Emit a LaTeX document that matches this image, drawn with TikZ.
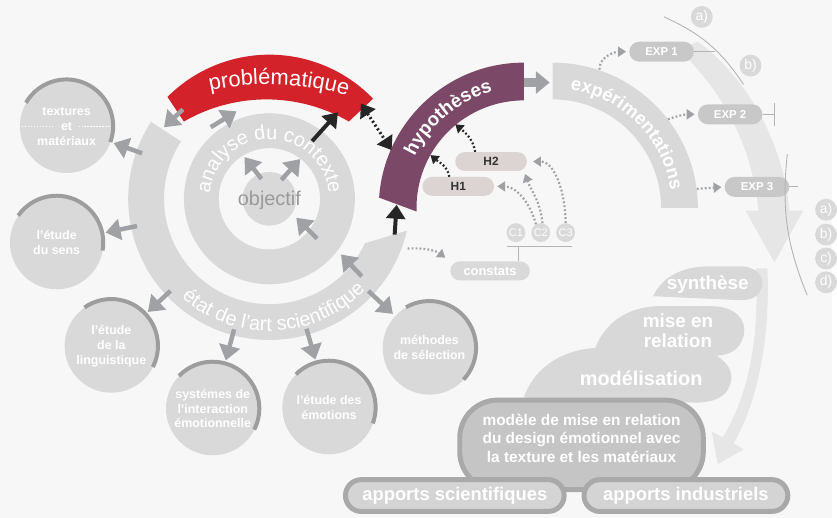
\documentclass[tikz,border=0pt]{standalone}
\usepackage{fontspec}
\setmainfont{Liberation Sans}
\usepackage{tikz}
\usetikzlibrary{positioning, arrows.meta, calc, decorations.text}
\definecolor{pagebg}{HTML}{F7F7F7}
\definecolor{ringgray}{HTML}{D9D9DA}
\definecolor{arrowgray}{HTML}{A0A1A4}
\definecolor{rimgray}{HTML}{9D9D9E}
\definecolor{probred}{HTML}{D3222A}
\definecolor{hyppurple}{HTML}{7B4967}
\definecolor{hypfill}{HTML}{DCD3D3}
\definecolor{expfill}{HTML}{C8C8C8}
\definecolor{sweepgray}{HTML}{E6E6E6}
\definecolor{blobgray}{HTML}{D8D8D8}
\definecolor{modelfill}{HTML}{C5C5C5}
\definecolor{boxrim}{HTML}{A9A9A9}
\definecolor{applfill}{HTML}{D4D4D4}
\definecolor{objgray}{HTML}{9A9A9A}
\tikzset{
  sat/.style={circle, fill=ringgray, minimum size=94pt, inner sep=0pt, align=center,
    text=white, font=\bfseries\fontsize{12.5}{15}\selectfont},
  rim/.style={draw=rimgray, line width=4pt},
  grayarr/.style={draw=arrowgray, line width=4.5pt, shorten >=3pt, -{Triangle[length=15pt, width=21pt]}},
  blackarr/.style={draw=black!85, line width=4pt, -{Triangle[length=14pt, width=19pt]}},
  blackdd/.style={draw=black!85, line width=3pt, dash pattern=on 2pt off 2.5pt,
    {Triangle[length=13pt, width=18pt]}-{Triangle[length=13pt, width=18pt]}},
  bdots/.style={draw=black!85, line width=2.2pt, dash pattern=on 1.8pt off 2.2pt, -{Triangle[length=8pt, width=10pt]}},
  gdots/.style={draw=arrowgray, line width=2.2pt, dash pattern=on 1.8pt off 2.2pt, shorten >=3pt, -{Triangle[length=8pt, width=10pt]}},
  hbox/.style={fill=hypfill, rounded corners=9.5pt, minimum width=72pt, minimum height=19pt, inner sep=0pt,
    text=black!80, font=\bfseries\fontsize{12}{12}\selectfont},
  expbox/.style={fill=expfill, rounded corners=10pt, minimum width=65pt, minimum height=20pt, inner sep=0pt,
    text=white, font=\bfseries\fontsize{11.5}{11.5}\selectfont},
  smallc/.style={circle, fill=ringgray, minimum size=19pt, inner sep=0pt, text=white, font=\fontsize{11}{11}\selectfont},
  labc/.style={circle, fill=ringgray, minimum size=22pt, inner sep=0pt, text=white, font=\fontsize{14}{14}\selectfont},
  guide/.style={draw=arrowgray!80, line width=0.9pt},
  blobtext/.style={text=white, align=center, font=\bfseries\fontsize{19}{20}\selectfont},
  apport/.style={draw=boxrim, line width=5pt, fill=applfill, rounded corners=16pt, minimum height=32pt,
    text=white, font=\bfseries\fontsize{18.5}{18.5}\selectfont},
}

\begin{document}
\begin{tikzpicture}[x=1pt, y=1pt]
  \fill[pagebg] (0,0) rectangle (837,-521);
  \coordinate (ctx) at (271,-200);
  \coordinate (hyp) at (527,-209);
  \coordinate (exc) at (556,-209);
  \coordinate (rin) at (268,-266);
  \coordinate (pbl) at (271,-361);

  % light sweeping arrows on the right
  \fill[sweepgray] (683,-50) .. controls (730,-95) and (757,-150) .. (763,-212) -- (750,-212) -- (779,-264)
    -- (808,-212) -- (794,-212) .. controls (788,-140) and (748,-75) .. (702,-42) -- cycle;
  \fill[sweepgray] (760,-270) .. controls (765,-340) and (752,-400) .. (727,-440) -- (716,-434) -- (722,-467)
    -- (748,-452) -- (738,-446) .. controls (762,-405) and (775,-340) .. (772,-270) -- cycle;

  % rings and bands
  \fill[ringgray] ($(ctx)+(147:142)$) arc[start angle=147, end angle=347, radius=142]
    -- ($(ctx)+(335:106)$) arc[start angle=335, end angle=147, radius=106] -- cycle;
  \fill[ringgray, even odd rule] (ctx) circle[radius=86] (ctx) circle[radius=51];
  \fill[ringgray] (ctx) circle[radius=27];
  \fill[probred] ($(ctx)+(135:145)$) arc[start angle=135, end angle=44, radius=145]
    -- ($(rin)+(60:166)$) arc[start angle=60, end angle=120, radius=166] -- cycle;
  \fill[hyppurple] ($(hyp)+(90:146)$) arc[start angle=90, end angle=176, radius=146]
    -- ($(hyp)+(182:108)$) arc[start angle=182, end angle=90, radius=108] -- cycle;
  \fill[ringgray] ($(exc)+(90:146)$) arc[start angle=90, end angle=0, radius=146]
    -- ($(exc)+(0:109)$) arc[start angle=0, end angle=90, radius=109] -- cycle;

  % texts along the bands
  \path[decorate, decoration={text along path, text align=center, text color=white,
    text={|\fontsize{22}{22}\selectfont|problématique}}]
    ($(pbl)+(104:276)$) arc[start angle=104, end angle=72, radius=276];
  \path[decorate, decoration={text along path, text align=center, text color=white,
    text={|\fontsize{20}{20}\selectfont|analyse du contexte}}]
    ($(ctx)+(178:60)$) arc[start angle=178, end angle=2, radius=60];
  \path[decorate, decoration={text along path, text align=center, text color=white,
    text={|\fontsize{20}{20}\selectfont|état de l'art scientifique}}]
    ($(ctx)+(205:133)$) arc[start angle=205, end angle=340, radius=133];
  \path[decorate, decoration={text along path, text align=center, text color=white,
    text={|\bfseries\fontsize{19}{19}\selectfont|hypothèses}}]
    ($(hyp)+(172:121)$) arc[start angle=172, end angle=88, radius=121];
  \path[decorate, decoration={text along path, text align=center, text color=white,
    text={|\bfseries\fontsize{18.5}{18.5}\selectfont|expérimentations}}]
    ($(exc)+(88:120)$) arc[start angle=88, end angle=2, radius=120];
  \node[text=objgray, font=\fontsize{20}{20}\selectfont] (obj) at (271,-202) {objectif};

  % satellite circles
  \node[sat] (tex) at (67,-127) {textures\\et\\matériaux};
  \node[sat] (sens) at (57,-244) {l'étude\\du sens};
  \node[sat] (ling) at (112,-348) {l'étude\\de la\\linguistique};
  \node[sat] (inter) at (214,-411) {systémes de\\l'interaction\\émotionnelle};
  \node[sat] (emo) at (331,-410) {l'étude des\\émotions};
  \node[sat] (meth) at (432,-350) {méthodes\\de sélection};
  \draw[white, line width=1.3pt, dash pattern=on 1.3pt off 1.7pt]
    ([xshift=-48pt, yshift=-0.5pt]tex.center) -- ([xshift=-12pt, yshift=-0.5pt]tex.center)
    ([xshift=12pt, yshift=-0.5pt]tex.center) -- ([xshift=46pt, yshift=-0.5pt]tex.center);
  \draw[rim] (tex.150) arc[start angle=150, end angle=-20, radius=47];
  \draw[rim] (sens.145) arc[start angle=145, end angle=-10, radius=47];
  \draw[rim] (ling.125) arc[start angle=125, end angle=-27, radius=47];
  \draw[rim] (inter.136) arc[start angle=136, end angle=-27, radius=47];
  \draw[rim] (emo.135) arc[start angle=135, end angle=-20, radius=47];
  \draw[rim] (meth.120) arc[start angle=120, end angle=-43, radius=47];
  \foreach \s in {tex, sens, ling, inter, emo, meth}
    \draw[grayarr] ($(ctx)!136pt!(\s)$) -- (\s);

  % arrows between the rings
  \coordinate (rs1) at (184,-110);  \coordinate (re1) at (165,-128);
  \coordinate (as1) at (212,-128);  \coordinate (ae1) at (238,-112);
  \coordinate (bs1) at (314,-142);  \coordinate (be1) at (340,-113);
  \coordinate (dd1) at (363,-104);  \coordinate (dd2) at (394,-151);
  \coordinate (bu1) at (397,-236);  \coordinate (bu2) at (399,-206);
  \coordinate (o1s) at (263,-180);  \coordinate (o1e) at (246,-158);
  \coordinate (o2s) at (283,-181);  \coordinate (o2e) at (302,-160);
  \coordinate (m1s) at (319,-240);  \coordinate (m1e) at (298,-219);
  \coordinate (m2s) at (364,-278);  \coordinate (m2e) at (343,-256);
  \coordinate (pe1) at (527,-83);   \coordinate (pe2) at (556,-83);
  \draw[grayarr, shorten >=0pt] (rs1) -- (re1);
  \draw[grayarr, shorten >=0pt] (as1) -- (ae1);
  \draw[grayarr, shorten >=0pt] (o1s) -- (o1e);
  \draw[grayarr, shorten >=0pt] (o2s) -- (o2e);
  \draw[grayarr, shorten >=0pt] (m1s) -- (m1e);
  \draw[grayarr, shorten >=0pt] (m2s) -- (m2e);
  \draw[grayarr, line width=9pt, -{Triangle[length=14pt, width=22pt]}] (pe1) -- (pe2);
  \draw[blackarr] (bs1) -- (be1);
  \draw[blackarr] (bu1) -- (bu2);
  \draw[blackdd] (dd1) -- (dd2);

  % hypotheses and findings
  \node[hbox] (h2) at (494,-162.5) {H2};
  \node[hbox] (h1) at (461,-187.5) {H1};
  \node[smallc] (c1) at (519,-234) {C1};
  \node[smallc] (c2) at (544,-234) {C2};
  \node[smallc] (c3) at (569,-234) {C3};
  \node[fill=ringgray, rounded corners=9.5pt, minimum width=80pt, minimum height=19pt, inner sep=0pt,
    text=white, font=\bfseries\fontsize{13}{13}\selectfont] (cons) at (493,-272.5) {constats};
  \coordinate (cl) at (510,-248);
  \coordinate (cr) at (575,-248);
  \coordinate (cj) at (522,-248);
  \draw[guide] (cl) -- (cr);
  \draw[guide] (cj) -- (cj |- cons.north);
  \coordinate (hy1) at (433,-156);
  \coordinate (hy2) at (458,-125);
  \coordinate (cs0) at (410,-250);
  \draw[bdots] ([xshift=-9pt]h1.north) to[out=100, in=-40] (hy1);
  \draw[bdots] ([xshift=-16pt]h2.north) to[out=100, in=-40] (hy2);
  \draw[gdots] (c2.120) to[out=105, in=0] (h1.east);
  \draw[gdots] (c2.80) to[out=95, in=-70] ([xshift=-3pt]h2.south east);
  \draw[gdots, shorten >=6pt] (c3.north) to[out=90, in=0] (h2.east);
  \draw[gdots, shorten >=6pt] (cs0) to[bend left=20] (cons.north west);

  % experiments
  \node[expbox] (exp1) at (665.5,-52) {EXP 1};
  \node[expbox] (exp2) at (734.5,-115) {EXP 2};
  \node[expbox] (exp3) at (761.5,-188) {EXP 3};
  \coordinate (ex1s) at (603,-70);
  \coordinate (ex2s) at (672,-120);
  \coordinate (ex3s) at (701,-190);
  \draw[gdots] (ex1s) to[out=90, in=180] (exp1.west);
  \draw[gdots] (ex2s) to[out=20, in=180] (exp2.west);
  \draw[gdots] (ex3s) -- (exp3.west);
  \coordinate (arA1) at (668,-17);
  \coordinate (arA2) at (748,-85);
  \coordinate (arB1) at (792,-155);
  \coordinate (arB2) at (812,-297);
  \coordinate (e1j) at (719,-52);
  \coordinate (e2j) at (779,-115);
  \coordinate (e3j) at (803,-188);
  \draw[guide] (arA1) to[bend left=16] (arA2);
  \draw[guide] (arB1) to[bend right=14] (arB2);
  \draw[guide] (exp1.east) -- (e1j);
  \draw[guide] (exp2.east) -- (e2j);
  \draw[guide] ([yshift=11pt]e2j) -- ([yshift=-12pt]e2j);
  \draw[guide] (exp3.east) -- (e3j);
  \node[labc] (la) at (706,-17) {a)};
  \node[labc] (lb) at (755,-66) {b)};
  \node[labc] (ra) at (831,-211) {a)};
  \node[labc] (rb) at (831,-236) {b)};
  \node[labc] (rc) at (831,-260) {c)};
  \node[labc] (rd) at (831,-284) {d)};

  % synthesis steps
  \fill[blobgray] (657,-298) .. controls (665,-280) and (685,-268) .. (712,-268) -- (745,-268)
    .. controls (762,-268) and (770,-280) .. (766,-290) .. controls (763,-298) and (757,-302) .. (745,-302) -- cycle;
  \fill[blobgray] (597,-355) .. controls (605,-330) and (625,-310) .. (660,-308) -- (715,-308)
    .. controls (740,-308) and (752,-322) .. (748,-338) .. controls (744,-352) and (735,-358) .. (715,-358) -- cycle;
  \fill[blobgray] (527,-400) .. controls (535,-375) and (560,-352) .. (600,-350) -- (690,-350)
    .. controls (720,-350) and (740,-368) .. (735,-385) .. controls (732,-398) and (720,-405) .. (700,-405) -- cycle;
  \node[blobtext] (syn) at (712,-286) {synthèse};
  \node[blobtext] (mer) at (682,-333) {mise en\\relation};
  \node[blobtext, font=\bfseries\fontsize{20}{20}\selectfont] (mod) at (645,-381) {modélisation};

  % model and contributions
  \node[draw=boxrim, line width=5pt, fill=modelfill, rounded corners=38pt,
    minimum width=245pt, minimum height=90pt] (mdl) at (585,-447.5) {};
  \node[text=white, align=center, font=\bfseries\fontsize{15.5}{18.5}\selectfont] (mdltext) at (585,-441)
    {modèle de mise en relation\\du design émotionnel avec\\la texture et les matériaux};
  \node[apport, minimum width=220pt] (asci) at (457.5,-498.5) {apports scientifiques};
  \node[apport, minimum width=205pt] (aind) at (690,-498.5) {apports industriels};
\end{tikzpicture}
\end{document}
